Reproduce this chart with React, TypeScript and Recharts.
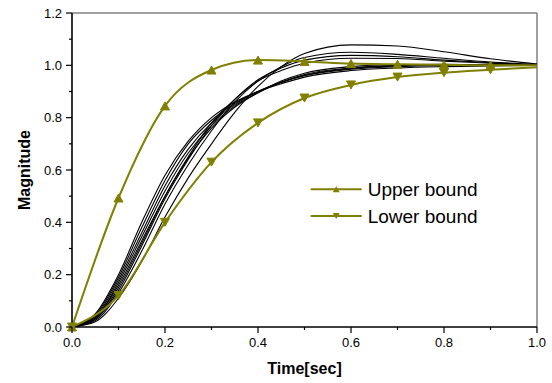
import React from 'react';
import { LineChart, Line, XAxis, YAxis, ReferenceLine, Legend } from 'recharts';

// Colours / fonts
const OLIVE = '#808000';
const FONT = '"Liberation Sans", Arial, sans-serif';

// ---------------------------------------------------------------------------
// Data
// ---------------------------------------------------------------------------

const TIME_BOUND = [0, 0.1, 0.2, 0.3, 0.4, 0.5, 0.6, 0.7, 0.8, 0.9, 1.0];
const UPPER = [0, 0.493, 0.845, 0.982, 1.02, 1.015, 1.007, 1.004, 1.002, 1.0, 1.0];
const LOWER = [0, 0.12, 0.40, 0.63, 0.78, 0.875, 0.925, 0.955, 0.972, 0.983, 0.993];

const TIME_RESP = [0, 0.05, 0.1, 0.15, 0.2, 0.25, 0.3, 0.35, 0.4, 0.45, 0.5, 0.6, 0.7, 0.8, 0.9, 1.0];
const RESP_A = [0, 0.02, 0.11, 0.25, 0.42, 0.57, 0.70, 0.82, 0.92, 0.995, 1.045, 1.078, 1.074, 1.052, 1.025, 1.005];
const RESP_B = [0, 0.025, 0.13, 0.29, 0.47, 0.62, 0.75, 0.86, 0.94, 0.995, 1.03, 1.05, 1.042, 1.027, 1.013, 1.004];
const RESP_C = [0, 0.03, 0.14, 0.31, 0.49, 0.64, 0.77, 0.87, 0.945, 0.99, 1.02, 1.038, 1.033, 1.02, 1.01, 1.002];
const RESP_D = [0, 0.03, 0.15, 0.32, 0.50, 0.65, 0.78, 0.87, 0.94, 0.98, 1.008, 1.027, 1.026, 1.016, 1.008, 1.0];
const RESP_E = [0, 0.05, 0.20, 0.40, 0.58, 0.71, 0.80, 0.86, 0.90, 0.93, 0.955, 0.98, 0.99, 0.995, 0.998, 1.0];
const RESP_F = [0, 0.045, 0.19, 0.38, 0.56, 0.70, 0.79, 0.855, 0.90, 0.935, 0.96, 0.985, 0.995, 1.0, 1.0, 1.0];
const RESP_G = [0, 0.04, 0.18, 0.36, 0.54, 0.68, 0.78, 0.85, 0.90, 0.935, 0.962, 0.988, 0.998, 1.002, 1.002, 1.0];
const RESP_H = [0, 0.035, 0.17, 0.345, 0.52, 0.665, 0.77, 0.845, 0.895, 0.935, 0.965, 0.99, 1.0, 1.003, 1.002, 1.0];
const RESP_I = [0, 0.035, 0.16, 0.33, 0.50, 0.645, 0.76, 0.84, 0.895, 0.94, 0.97, 0.995, 1.003, 1.004, 1.002, 1.0];
const RESPONSES = [RESP_A, RESP_B, RESP_C, RESP_D, RESP_E, RESP_F, RESP_G, RESP_H, RESP_I];

const X_TICKS = [0, 0.1, 0.2, 0.3, 0.4, 0.5, 0.6, 0.7, 0.8, 0.9, 1.0];
const Y_TICKS = [0, 0.1, 0.2, 0.3, 0.4, 0.5, 0.6, 0.7, 0.8, 0.9, 1.0, 1.1, 1.2];

const toPoints = (t: number[], v: number[]) => t.map((x, i) => ({ t: x, v: v[i] }));

// ---------------------------------------------------------------------------
// Ticks (major labelled every 0.2, minor in between)
// ---------------------------------------------------------------------------

const isMajor = (v: number) => Math.round(v * 10) % 2 === 0;

function XTick({ x, y, payload }: any) {
  const major = isMajor(payload.value);
  return (
    <g>
      <line x1={x} y1={y} x2={x} y2={y + (major ? 6 : 3)} stroke="#000" strokeWidth={1.2} />
      {major && (
        <text x={x} y={y + 20} textAnchor="middle" fontSize={13} fill="#000" fontFamily={FONT}>
          {payload.value.toFixed(1)}
        </text>
      )}
    </g>
  );
}

function YTick({ x, y, payload }: any) {
  const major = isMajor(payload.value);
  return (
    <g>
      <line x1={x} y1={y} x2={x - (major ? 6 : 3)} y2={y} stroke="#000" strokeWidth={1.2} />
      {major && (
        <text x={x - 10} y={y + 4.6} textAnchor="end" fontSize={13} fill="#000" fontFamily={FONT}>
          {payload.value.toFixed(1)}
        </text>
      )}
    </g>
  );
}

// ---------------------------------------------------------------------------
// Triangle markers
// ---------------------------------------------------------------------------

function triPath(cx: number, cy: number, up: boolean, w = 4.5, h = 8) {
  return up
    ? `M${cx - w},${cy + h / 2}L${cx + w},${cy + h / 2}L${cx},${cy - h / 2}Z`
    : `M${cx - w},${cy - h / 2}L${cx + w},${cy - h / 2}L${cx},${cy + h / 2}Z`;
}

const triDot = (up: boolean) => (props: any) => {
  const { cx, cy, payload, index } = props;
  if (payload.t >= 1) return <g key={index} />;
  return <path key={index} d={triPath(cx, cy, up)} fill={OLIVE} stroke={OLIVE} />;
};

// ---------------------------------------------------------------------------
// Legend
// ---------------------------------------------------------------------------

const LEGEND_ITEMS = [
  { name: 'Upper bound', up: true },
  { name: 'Lower bound', up: false },
];

function BoundsLegend() {
  return (
    <svg width={200} height={60}>
      {LEGEND_ITEMS.map((it, i) => {
        const cy = 14.3 + i * 26.7;
        return (
          <g key={it.name}>
            <line x1={5.7} y1={cy} x2={56.7} y2={cy} stroke={OLIVE} strokeWidth={2} />
            <path d={triPath(31.2, cy, it.up, 3.5, 6)} fill={OLIVE} />
            <text x={62.7} y={cy + 6.7} fontSize={19} fontFamily={FONT} fill="#000">
              {it.name}
            </text>
          </g>
        );
      })}
    </svg>
  );
}

export default function App() {
  return (
    <div style={{ position: 'absolute', left: 0, top: 0, width: 552, height: 383, background: '#fff' }}>
      <LineChart width={552} height={383} margin={{ top: 13, right: 15, bottom: 0, left: 0 }}>
        <XAxis
          dataKey="t"
          type="number"
          domain={[0, 1]}
          ticks={X_TICKS}
          interval={0}
          tickSize={0}
          tickMargin={0}
          tickLine={false}
          tick={<XTick />}
          axisLine={{ stroke: '#000', strokeWidth: 1.6 }}
          height={56}
          label={{
            value: 'Time[sec]',
            position: 'insideBottom',
            offset: 9,
            style: { fontSize: 16, fontWeight: 'bold', fontFamily: FONT, fill: '#000' },
          }}
        />
        <YAxis
          type="number"
          domain={[0, 1.2]}
          ticks={Y_TICKS}
          interval={0}
          tickSize={0}
          tickMargin={0}
          tickLine={false}
          tick={<YTick />}
          axisLine={{ stroke: '#000', strokeWidth: 1.6 }}
          width={72}
          label={{
            value: 'Magnitude',
            angle: -90,
            position: 'insideLeft',
            offset: 24,
            textAnchor: 'middle',
            style: { fontSize: 16, fontWeight: 'bold', fontFamily: FONT, fill: '#000', textAnchor: 'middle' },
          }}
        />
        <ReferenceLine y={1.2} stroke="#808080" strokeWidth={1.5} />
        <ReferenceLine x={1} stroke="#808080" strokeWidth={1.5} />

        {RESPONSES.map((r, i) => (
          <Line
            key={i}
            data={toPoints(TIME_RESP, r)}
            dataKey="v"
            type="monotone"
            stroke="#000"
            strokeWidth={1.1}
            dot={false}
            activeDot={false}
            isAnimationActive={false}
            legendType="none"
          />
        ))}

        <Line
          data={toPoints(TIME_BOUND, UPPER)}
          dataKey="v"
          name="Upper bound"
          type="monotone"
          stroke={OLIVE}
          strokeWidth={2}
          dot={triDot(true)}
          activeDot={false}
          isAnimationActive={false}
        />
        <Line
          data={toPoints(TIME_BOUND, LOWER)}
          dataKey="v"
          name="Lower bound"
          type="monotone"
          stroke={OLIVE}
          strokeWidth={2}
          dot={triDot(false)}
          activeDot={false}
          isAnimationActive={false}
        />

        <Legend
          layout="vertical"
          align="center"
          verticalAlign="middle"
          content={<BoundsLegend />}
          wrapperStyle={{ left: 305, top: 175, width: 200, height: 60 }}
        />
      </LineChart>
    </div>
  );
}
